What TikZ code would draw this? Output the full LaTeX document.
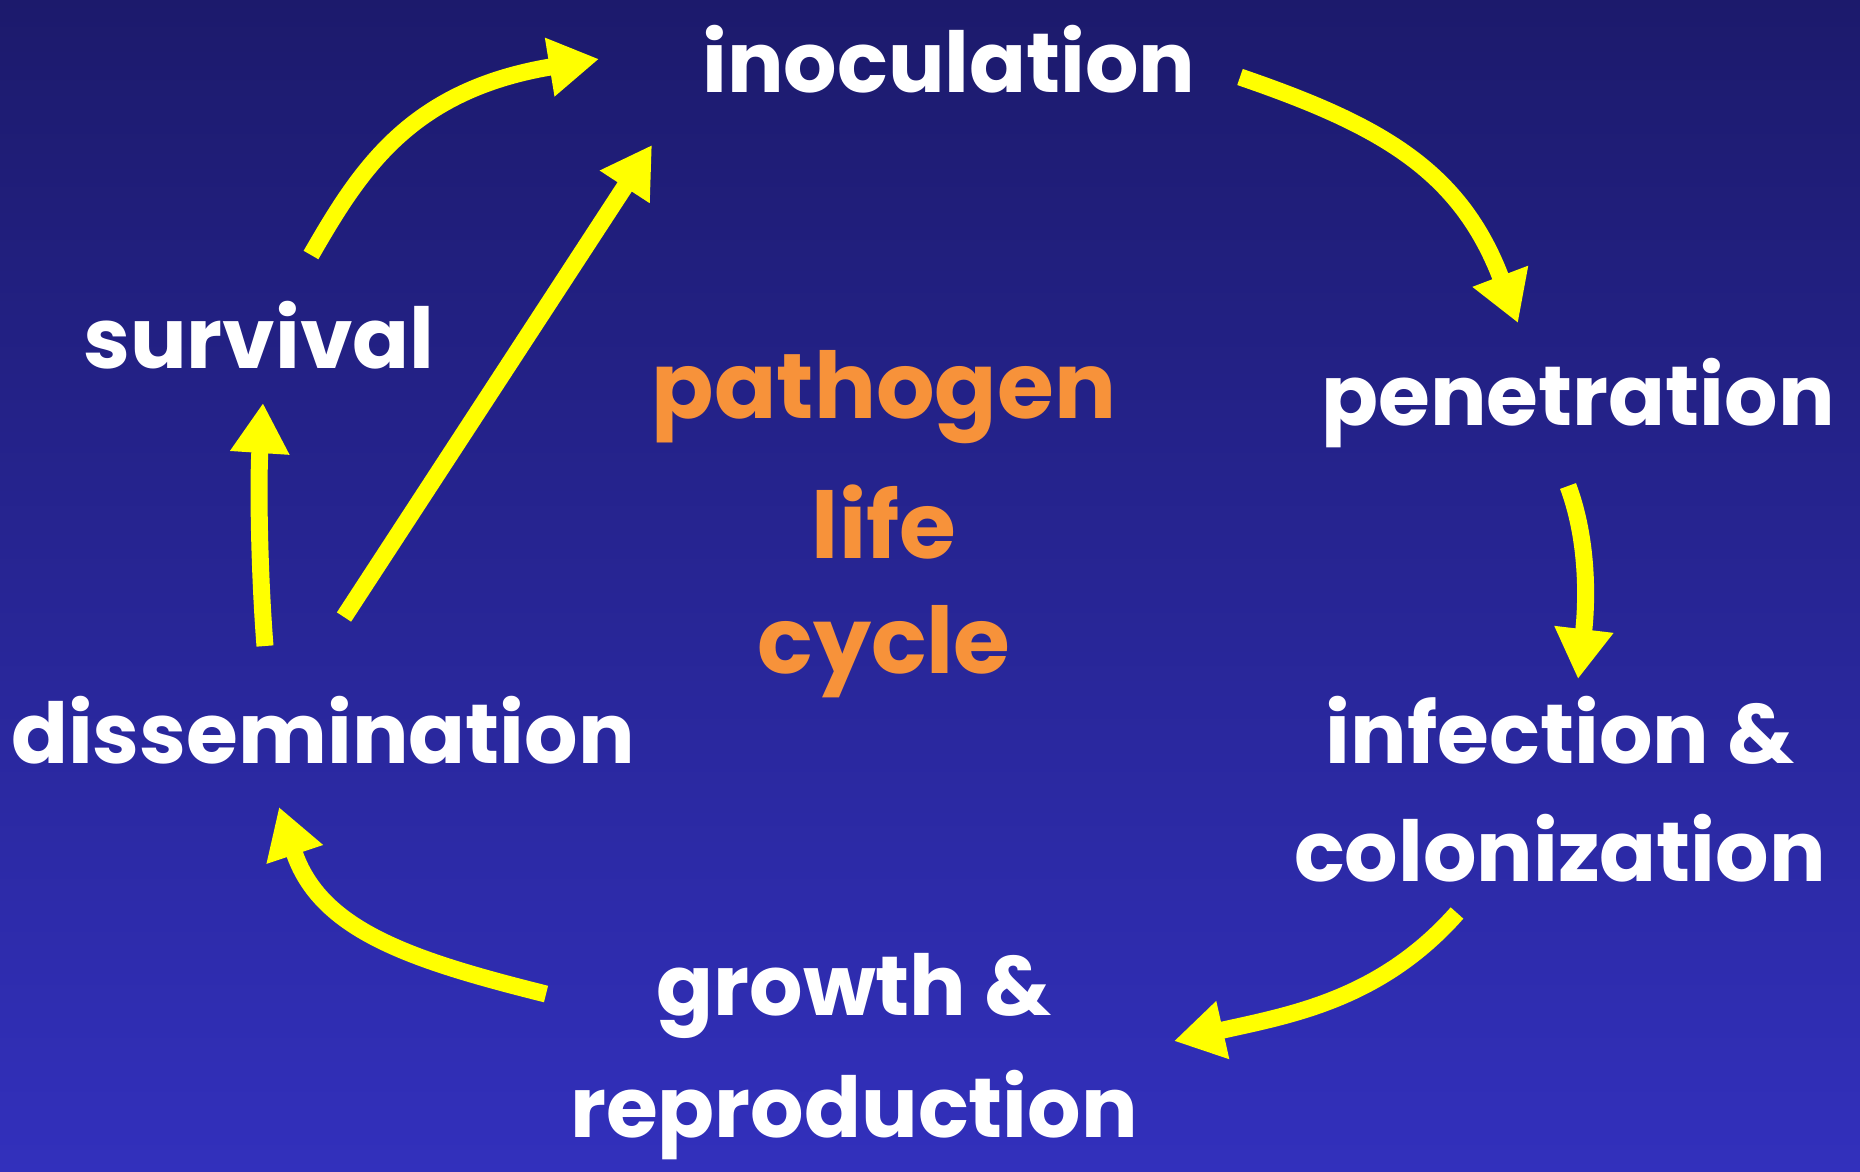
\documentclass[tikz,border=0pt]{standalone}
\usepackage{fontspec}
\setmainfont{Poppins}
\usetikzlibrary{arrows.meta}
\definecolor{bgtop}{RGB}{28,26,108}
\definecolor{bgbot}{RGB}{50,48,188}
\definecolor{arrowyellow}{RGB}{255,255,0}
\definecolor{lifeorange}{RGB}{247,146,58}
\tikzset{
  lbl/.style={text=white,font=\fontsize{84}{100}\selectfont\bfseries,inner sep=0pt,align=center},
  ctr/.style={text=lifeorange,font=\fontsize{92}{100}\selectfont\bfseries,inner sep=0pt},
  flow/.style={draw=arrowyellow,line width=17pt,-{Triangle[length=50pt,width=56pt]}}
}
\begin{document}
\begin{tikzpicture}[x=1pt,y=-1pt]
\shade[top color=bgtop,bottom color=bgbot] (0,0) rectangle (1860,1171);
\useasboundingbox (0,0) rectangle (1860,1171);
\node[lbl] (inoc) at (949,59) {inoculation};
\node[lbl] (surv) at (259,335) {survival};
\node[lbl] (pene) at (1578,403) {penetration};
\node[lbl] (infe) at (1560,730) {infection \&};
\node[lbl] (colo) at (1560,848) {colonization};
\node[lbl] (diss) at (323,730) {dissemination};
\node[lbl] (grow) at (854,996) {growth \&};
\node[lbl] (repr) at (854,1115) {reproduction};
\node[ctr] (path) at (884,397) {pathogen};
\node[ctr] (life) at (884,522) {life};
\node[ctr] (cycl) at (884,652) {cycle};
\coordinate (a1s) at (311,255);
\coordinate (a1e) at (599,59);
\coordinate (a2s) at (344,617);
\coordinate (a2e) at (652,145);
\coordinate (a3s) at (265,646);
\coordinate (a3e) at (263,403);
\coordinate (a4s) at (1240,77);
\coordinate (a4e) at (1518,323);
\coordinate (a5s) at (1568,486);
\coordinate (a5e) at (1578,679);
\coordinate (a6s) at (1457,913);
\coordinate (a6e) at (1174,1041);
\coordinate (a7s) at (546,994);
\coordinate (a7e) at (279,807);
\draw[flow] (a1s) .. controls (360,170) and (410,90) .. (a1e);
\draw[flow] (a2s) -- (a2e);
\draw[flow] (a3s) .. controls (259,570) and (258,480) .. (a3e);
\draw[flow] (a4s) .. controls (1380,125) and (1460,170) .. (a4e);
\draw[flow] (a5s) .. controls (1592,550) and (1585,620) .. (a5e);
\draw[flow] (a6s) .. controls (1380,1000) and (1290,1015) .. (a6e);
\draw[flow] (a7s) .. controls (410,960) and (320,930) .. (a7e);
\end{tikzpicture}
\end{document}
